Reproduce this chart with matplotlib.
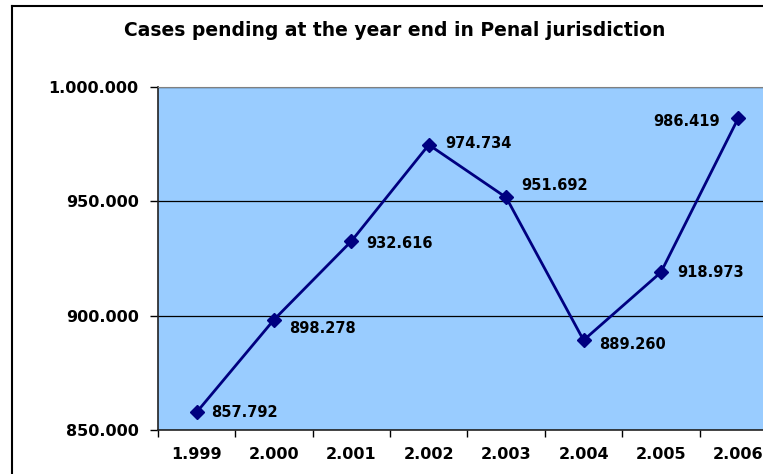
import matplotlib.pyplot as plt
from matplotlib.lines import Line2D

years = ["1.999", "2.000", "2.001", "2.002", "2.003", "2.004", "2.005", "2.006"]
pending = [857792, 898278, 932616, 974734, 951692, 889260, 918973, 986419]
# label offsets in pixels (dx, dy) relative to the marker
label_dx = [14, 15, 15, 16, 15, 16, 16, -18]
label_dy = [0, -9, -2, 1, 12, -4, 0, -3]


def fmt(v):
    return "{:,}".format(v).replace(",", ".")


plt.rcParams['font.family'] = ['DejaVu Sans']
plt.rcParams['font.weight'] = 'bold'

fig = plt.figure(figsize=(7.63, 4.74), dpi=100)
ax = fig.add_axes([158 / 763, 1 - 430 / 474, 619 / 763, 343 / 474])
ax.set_facecolor('#99CCFF')

x = list(range(len(years)))
ax.plot(x, pending, color='#000080', lw=2, marker='D', ms=7.5, zorder=3)

px = 0.72  # points per pixel at 100 dpi
for i, v in enumerate(pending):
    ha = 'left' if label_dx[i] > 0 else 'right'
    ax.annotate(fmt(v), (i, v), xytext=(label_dx[i] * px, label_dy[i] * px),
                textcoords='offset points', ha=ha, va='center',
                fontsize=10.5, fontweight='bold', color='black')

ax.set_xlim(-0.5, len(years) - 0.5)
ax.set_ylim(850000, 1000000)
ax.set_yticks([850000, 900000, 950000, 1000000])
ax.set_yticklabels([fmt(t) for t in [850000, 900000, 950000, 1000000]])
ax.yaxis.grid(True, color='black', lw=0.9)
ax.set_axisbelow(True)

ax.set_xticks(x)
ax.set_xticklabels(years)
ax.set_xticks([i + 0.5 for i in range(-1, len(years))], minor=True)
ax.tick_params(axis='x', which='major', length=0, pad=12, labelsize=11.5)
ax.tick_params(axis='x', which='minor', length=5, width=1, direction='out')
ax.tick_params(axis='y', length=6, width=1, pad=8, labelsize=11.5)
for lab in ax.get_xticklabels() + ax.get_yticklabels():
    lab.set_fontweight('bold')

ax.spines['right'].set_visible(False)
ax.spines['top'].set_color('#808080')
ax.spines['left'].set_color('#222222')
ax.spines['bottom'].set_color('#222222')
ax.spines['left'].set_linewidth(1.2)
ax.spines['bottom'].set_linewidth(1.2)

fig.text(395 / 763, 1 - 30 / 474, "Cases pending at the year end in Penal jurisdiction",
         ha='center', va='center', fontsize=13.5, fontweight='bold')

# outer chart border (cut off at right and bottom)
bx, by = 12 / 763, 1 - 6 / 474
fig.add_artist(Line2D([bx, bx], [0, by], color='black', lw=1.5, transform=fig.transFigure))
fig.add_artist(Line2D([bx, 1], [by, by], color='black', lw=1.5, transform=fig.transFigure))

fig.savefig('out.png', dpi=100)
